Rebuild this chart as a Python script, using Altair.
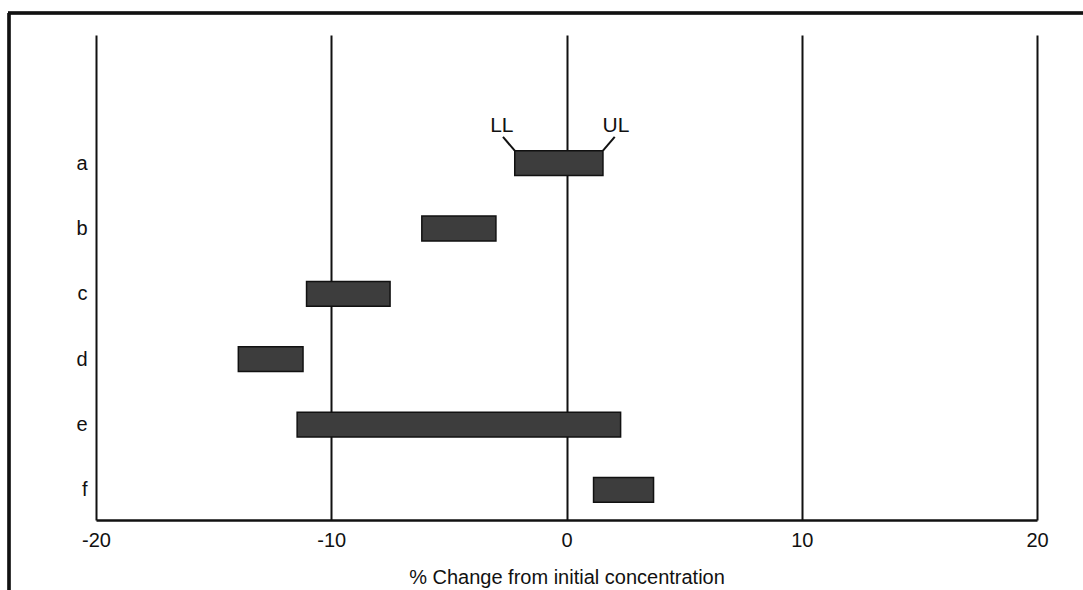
import json
import altair as alt
import pandas as pd

# Interval limits (% change from initial concentration) for each sample
categories = ["a", "b", "c", "d", "e", "f"]
lower = [-2.2, -6.15, -11.05, -13.95, -11.45, 1.15]
upper = [1.55, -3.0, -7.5, -11.2, 2.3, 3.7]
x_ticks = [-20, -10, 0, 10, 20]

n = len(categories)
bars = pd.DataFrame({
    "cat": categories,
    "lower": lower,
    "upper": upper,
    "row": [n - i for i in range(n)],
})

# LL / UL callouts attached to the ends of the first interval
notes = pd.DataFrame({
    "label": ["LL", "UL"],
    "value": [lower[0], upper[0]],
    "side": [-1, 1],
    "row": [n, n],
})

FONT = "Liberation Sans"
HALF = 0.19

x_scale = alt.Scale(domain=[-20, 20], nice=False, zero=False)
y_scale = alt.Scale(domain=[0.54, 7.96], nice=False, zero=False)
label_expr = json.dumps(categories[::-1]) + "[datum.value - 1]"

x_axis = alt.Axis(
    values=x_ticks, labelExpr="'' + datum.value", labelFlush=False,
    grid=True, gridColor="#111111", gridWidth=2, gridOpacity=1,
    ticks=False, domain=True, domainColor="#111111", domainWidth=2.5,
    labelFont=FONT, labelFontSize=20, labelColor="#111111", labelPadding=10,
    title="% Change from initial concentration", titleFont=FONT, titleFontSize=20,
    titleFontWeight="normal", titleColor="#111111", titlePadding=17,
)
y_axis = alt.Axis(
    values=list(range(1, n + 1)), labelExpr=label_expr, grid=False, ticks=False,
    domain=False, labelFont=FONT, labelFontSize=20, labelColor="#111111",
    labelPadding=9, title=None,
)

rects = alt.Chart(bars).transform_calculate(
    y0=f"datum.row - {HALF}", y1=f"datum.row + {HALF}"
).mark_rect(fill="#3d3d3d", stroke="#111111", strokeWidth=1.5).encode(
    x=alt.X("lower:Q", scale=x_scale, axis=x_axis),
    x2="upper:Q",
    y=alt.Y("y0:Q", scale=y_scale, axis=y_axis),
    y2="y1:Q",
)

leaders = alt.Chart(notes).transform_calculate(
    xe="datum.value + datum.side * 0.5",
    ya=f"datum.row + {HALF}",
    yb="datum.row + 0.40",
).mark_rule(color="#111111", strokeWidth=2).encode(
    x=alt.X("value:Q", scale=x_scale),
    x2="xe:Q",
    y=alt.Y("ya:Q", scale=y_scale),
    y2="yb:Q",
)

labels = alt.Chart(notes).transform_calculate(
    xe="datum.value + datum.side * 0.55",
    yt="datum.row + 0.47",
).mark_text(font=FONT, fontSize=21, color="#111111", baseline="alphabetic").encode(
    x=alt.X("xe:Q", scale=x_scale),
    y=alt.Y("yt:Q", scale=y_scale),
    text="label:N",
)

# Page frame lines (top and left edge)
frame_top = alt.Chart(bars).mark_rule(color="#111111", strokeWidth=2.5, clip=False).encode(
    x=alt.value(-88), x2=alt.value(1000), y=alt.value(-22)
)
frame_left = alt.Chart(bars).mark_rule(color="#111111", strokeWidth=2.5, clip=False).encode(
    x=alt.value(-87), y=alt.value(-22), y2=alt.value(560)
)

chart = alt.layer(rects, leaders, labels, frame_top, frame_left).properties(
    width=941, height=485,
    autosize=alt.AutoSizeParams(type="none"),
    padding={"left": 96, "top": 35, "right": 46, "bottom": 70},
    background="white",
).configure_view(stroke=None)

chart.save("out.html", embed_options={"renderer": "svg", "actions": False})
